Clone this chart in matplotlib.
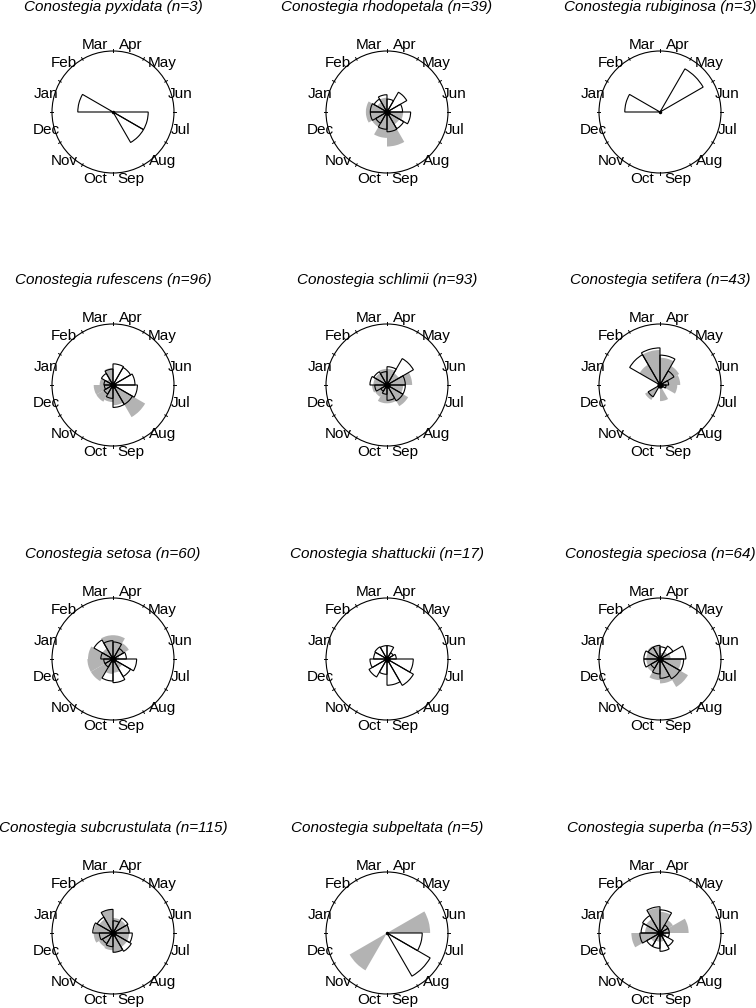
import numpy as np
import matplotlib.pyplot as plt
from matplotlib.patches import Wedge, Circle

plt.rcParams['font.family'] = ['Liberation Sans', 'DejaVu Sans']

months = ["Jan", "Feb", "Mar", "Apr", "May", "Jun",
          "Jul", "Aug", "Sep", "Oct", "Nov", "Dec"]

species = ["pyxidata", "rhodopetala", "rubiginosa",
           "rufescens", "schlimii", "setifera",
           "setosa", "shattuckii", "speciosa",
           "subcrustulata", "subpeltata", "superba"]
n_specimens = [3, 39, 3, 96, 93, 43, 60, 17, 64, 115, 5, 53]

# relative frequency per month (Jan..Dec), flowering (outline) and fruiting (grey)
flw_pyxidata = [0.333, 0, 0, 0, 0, 0, 0.333, 0.333, 0, 0, 0, 0]
frt_pyxidata = [0, 0, 0, 0, 0, 0, 0, 0, 0, 0, 0, 0]
flw_rhodopetala = [0.075, 0.06, 0.08, 0.045, 0.14, 0.065, 0.15, 0.10, 0.105, 0.08, 0.045, 0.075]
frt_rhodopetala = [0.12, 0.035, 0.055, 0, 0, 0, 0.07, 0.055, 0.32, 0.18, 0.08, 0.12]
flw_rubiginosa = [0.333, 0, 0, 0, 0.667, 0, 0, 0, 0, 0, 0, 0]
frt_rubiginosa = [0, 0, 0, 0, 0, 0, 0, 0, 0, 0, 0, 0]
flw_rufescens = [0.022, 0.048, 0.068, 0.12, 0.11, 0.13, 0.16, 0.135, 0.135, 0.048, 0.029, 0.02]
frt_rufescens = [0.048, 0.014, 0.078, 0, 0, 0, 0, 0.37, 0.11, 0.078, 0.10, 0.10]
flw_schlimii = [0.078, 0.063, 0.048, 0.09, 0.25, 0.09, 0.09, 0.09, 0.063, 0.023, 0.014, 0.04]
frt_schlimii = [0.05, 0.05, 0.07, 0.07, 0.05, 0.17, 0.07, 0.16, 0.09, 0.09, 0.05, 0.06]
flw_setifera = [0, 0.33, 0.37, 0.24, 0.07, 0.02, 0.01, 0, 0, 0, 0.05, 0]
frt_setifera = [0, 0.15, 0.33, 0.20, 0.13, 0.11, 0.08, 0, 0.07, 0, 0.08, 0]
flw_setosa = [0.04, 0.13, 0.09, 0.078, 0.04, 0.048, 0.15, 0.11, 0.15, 0.13, 0.023, 0.023]
frt_setosa = [0.168, 0.04, 0.152, 0.152, 0.09, 0.01, 0, 0.03, 0.05, 0.06, 0.176, 0.176]
flw_shattuckii = [0.048, 0.053, 0.048, 0.048, 0.014, 0.023, 0.185, 0.25, 0.185, 0.063, 0.116, 0.078]
frt_shattuckii = [0, 0, 0, 0, 0, 0, 0, 0, 0, 0, 0, 0]
flw_speciosa = [0.07, 0.05, 0.05, 0.04, 0.06, 0.18, 0.15, 0.14, 0.10, 0.06, 0.03, 0.07]
frt_speciosa = [0.05, 0.06, 0.05, 0.01, 0.02, 0.03, 0.12, 0.28, 0.16, 0.12, 0.06, 0.05]
flw_subcrustulata = [0.11, 0.09, 0.15, 0.04, 0.08, 0.07, 0.10, 0.12, 0.10, 0.05, 0.04, 0.05]
frt_subcrustulata = [0.10, 0.07, 0.15, 0.06, 0.06, 0.07, 0.07, 0.07, 0.10, 0.08, 0.07, 0.10]
flw_subpeltata = [0, 0, 0, 0, 0, 0, 0.333, 0.667, 0, 0, 0, 0]
frt_subpeltata = [0, 0, 0, 0, 0, 0.5, 0, 0, 0, 0, 0.5, 0]
flw_superba = [0.096, 0.109, 0.185, 0.144, 0.023, 0.023, 0.023, 0.063, 0.09, 0.063, 0.063, 0.109]
frt_superba = [0.06, 0.07, 0.17, 0.12, 0.06, 0.22, 0.01, 0.01, 0.02, 0.02, 0.03, 0.22]

flowering = [flw_pyxidata, flw_rhodopetala, flw_rubiginosa, flw_rufescens,
             flw_schlimii, flw_setifera, flw_setosa, flw_shattuckii,
             flw_speciosa, flw_subcrustulata, flw_subpeltata, flw_superba]
fruiting = [frt_pyxidata, frt_rhodopetala, frt_rubiginosa, frt_rufescens,
            frt_schlimii, frt_setifera, frt_setosa, frt_shattuckii,
            frt_speciosa, frt_subcrustulata, frt_subpeltata, frt_superba]

W, H = 756, 1008
fig = plt.figure(figsize=(W / 100, H / 100), dpi=100)

col_x = [113, 387, 660]
row_y = [112, 385, 659, 933]
R = 61          # circle radius in px
lim = 1.4
grey = "#b3b3b3"

for k, name in enumerate(species):
    cx = col_x[k % 3]
    cy = row_y[k // 3]
    size = 2 * lim * R
    ax = fig.add_axes([(cx - size / 2) / W, (H - cy - size / 2) / H, size / W, size / H])
    ax.set_xlim(-lim, lim)
    ax.set_ylim(-lim, lim)
    ax.set_aspect("equal")
    ax.axis("off")

    # month i occupies the sector [150 - 30 i, 180 - 30 i] degrees
    for i in range(12):
        p = fruiting[k][i]
        if p > 0:
            ax.add_patch(Wedge((0, 0), np.sqrt(p), 150 - 30 * i, 180 - 30 * i,
                               facecolor=grey, edgecolor="none", zorder=1))
    for i in range(12):
        p = flowering[k][i]
        if p > 0:
            ax.add_patch(Wedge((0, 0), np.sqrt(p), 150 - 30 * i, 180 - 30 * i,
                               facecolor="none", edgecolor="black", linewidth=0.8, zorder=2))

    ax.add_patch(Circle((0, 0), 1, facecolor="none", edgecolor="black", linewidth=0.8, zorder=3))
    for a in np.deg2rad(np.arange(0, 360, 30)):
        ax.plot([0.98 * np.cos(a), 1.03 * np.cos(a)], [0.98 * np.sin(a), 1.03 * np.sin(a)],
                color="black", linewidth=0.7, zorder=3)
    nwedges = sum(1 for v in flowering[k] + fruiting[k] if v > 0)
    ax.plot(0, 0, "o", color="black", markersize=3.5 if nwedges > 8 else 1.5, zorder=4)

    for i, m in enumerate(months):
        a = np.deg2rad(165 - 30 * i)
        ax.text(1.14 * np.cos(a), 1.14 * np.sin(a), m, ha="center", va="center",
                fontsize=11, zorder=5)

    fig.text(cx / W, 1 - (cy - 105) / H, "Conostegia %s (n=%d)" % (name, n_specimens[k]),
             ha="center", va="center", fontsize=11, style="italic")

fig.savefig("out.png", dpi=100)
